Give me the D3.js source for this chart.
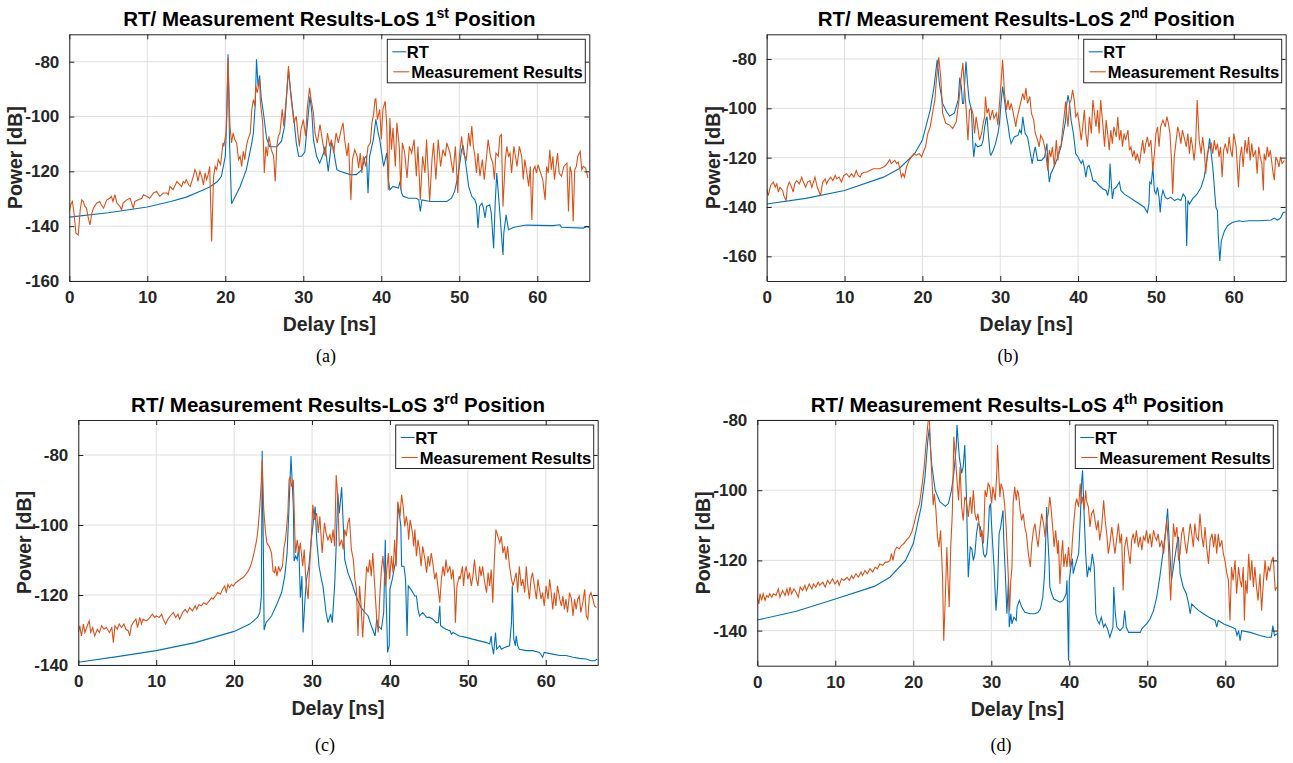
<!DOCTYPE html>
<html>
<head>
<meta charset="utf-8">
<script src="https://cdn.jsdelivr.net/npm/d3@7"></script>
<style>
body { margin: 0; background: #fff; }
text { font-family: "Liberation Sans", Arial, Helvetica, sans-serif; }
</style>
</head>
<body>
<div id="chart"></div>
<script>
// ---- data: [delay ns, power dB] ----
const xTicks = [0, 10, 20, 30, 40, 50, 60];

const rtA = [[0,-136.7],[5,-135.1],[10,-133],[13,-131],[15,-129.4],[17,-127],[18,-125.7],[19,-123.7],[19.5,-121.8],[20,-114.5],[20.2,-100],[20.35,-77.3],[20.55,-110],[20.8,-131.8],[21.3,-129],[21.9,-125.5],[22.7,-119.4],[23.4,-109.6],[23.6,-106],[23.85,-95],[24.0,-79.1],[24.2,-89],[24.4,-85],[24.6,-93],[24.9,-99],[25.3,-108],[25.7,-111],[26.6,-111],[27.2,-109],[27.6,-103.5],[27.9,-91],[28.1,-83.4],[28.5,-93.8],[28.8,-101],[29.1,-109.6],[29.4,-114.5],[29.8,-114.5],[30.2,-113],[30.5,-103.5],[30.85,-92.6],[31.1,-98.7],[31.3,-108.4],[31.7,-114.5],[32.1,-117],[32.6,-113.3],[32.8,-110.9],[33.2,-120],[33.6,-109.6],[33.8,-110.9],[34.3,-119.4],[34.7,-120],[36.0,-121.2],[36.8,-121.2],[37.5,-119.4],[37.9,-115],[38.1,-114.5],[38.3,-128],[38.5,-114.5],[38.98,-108.4],[39.3,-101],[39.6,-106],[39.8,-108.4],[40.3,-118.2],[40.7,-113.3],[40.9,-123],[41.1,-126.7],[41.5,-125.5],[42.2,-126.1],[42.4,-123.7],[42.6,-127.9],[42.8,-129.1],[43.5,-129.8],[44.5,-129.8],[44.8,-130.4],[45.0,-134.6],[45.2,-130.4],[46.3,-131],[48.4,-131],[49.0,-129.8],[49.4,-127.3],[49.9,-120.6],[50.3,-112.1],[50.5,-110.9],[50.7,-114.5],[51.2,-125.5],[51.6,-129.1],[52.0,-130.4],[52.2,-132.2],[52.4,-140.7],[52.6,-132.8],[52.9,-131.6],[53.1,-133.4],[53.3,-137],[53.5,-132.8],[53.9,-132.2],[54.1,-135.2],[54.4,-148],[54.6,-131.6],[54.8,-120.6],[55.0,-127.9],[55.2,-135.2],[55.6,-150.5],[55.7,-142.6],[56.0,-135.9],[56.3,-141.3],[57.0,-140.4],[58.6,-139.6],[62.0,-139.8],[62.9,-139.5],[63.1,-140.4],[65.9,-140.7],[66.3,-140.1],[66.67,-140.5]];

const msA = [[0,-134.6],[0.17,-132.2],[0.4,-131],[0.6,-135.2],[0.85,-142.6],[1.15,-143.2],[1.4,-134],[1.6,-130.4],[1.8,-131],[2.0,-132.8],[2.2,-133.4],[2.4,-136.5],[2.65,-139.5],[2.9,-135.2],[3.1,-133.4],[3.5,-131.6],[3.9,-131],[4.1,-132.2],[4.4,-133.4],[4.8,-130.4],[5.2,-129.8],[5.4,-129.1],[5.6,-131],[5.85,-128.5],[6.1,-131.6],[6.5,-132.8],[6.7,-134],[6.9,-131.6],[7.35,-130.4],[7.8,-129.8],[8.2,-133.4],[8.4,-131],[8.85,-130.4],[9.3,-129.8],[9.5,-128.5],[9.9,-129.1],[10.3,-129.8],[10.8,-127.9],[11.2,-127.3],[11.6,-129.1],[12.05,-127.9],[12.5,-127.9],[12.7,-128.5],[12.9,-125.5],[13.3,-126.7],[13.8,-123.7],[14.2,-124.9],[14.4,-125.5],[14.6,-123.7],[14.8,-124.3],[15.0,-123],[15.3,-124.9],[15.5,-125.5],[15.7,-123.7],[15.9,-121.8],[16.1,-119.4],[16.3,-120.6],[16.5,-123.7],[16.75,-120],[16.97,-121.8],[17.2,-124.9],[17.4,-120.6],[17.6,-123],[17.8,-121.2],[18.0,-118.2],[18.25,-145.6],[18.5,-121.8],[18.7,-118.2],[18.9,-119.4],[19.1,-115.7],[19.4,-117.6],[19.7,-109.6],[19.8,-110.9],[20.1,-106],[20.35,-78.5],[20.6,-103.5],[20.8,-109.6],[21.0,-106],[21.2,-108.4],[21.45,-109.6],[21.7,-115.7],[21.9,-114.5],[22.1,-118.2],[22.3,-112.7],[22.5,-115.7],[22.7,-110.9],[22.9,-108.4],[23.2,-106],[23.4,-97.4],[23.6,-93.8],[23.8,-96.2],[23.9,-88.9],[24.1,-91.3],[24.4,-86.5],[24.5,-95],[24.8,-102.3],[25.0,-120.6],[25.2,-110.9],[25.4,-114.5],[25.6,-107.2],[25.9,-112.1],[26.2,-114.5],[26.4,-123.7],[26.6,-110.9],[26.8,-107.2],[27.0,-106],[27.3,-97.4],[27.5,-103.5],[27.8,-93.8],[28.1,-81.6],[28.4,-92.6],[28.6,-97.4],[28.8,-102.3],[29.1,-99.9],[29.3,-106],[29.5,-110.9],[29.7,-104.8],[30.0,-101.1],[30.3,-107.2],[30.5,-97.4],[30.8,-89.5],[31.0,-93.8],[31.3,-98.7],[31.5,-106],[31.8,-109.6],[32.14,-102.9],[32.5,-109.6],[32.8,-114.5],[33.1,-106],[33.4,-110.9],[33.6,-108.4],[33.9,-113.3],[34.2,-106],[34.5,-109.6],[34.8,-105.4],[35.1,-102.3],[35.3,-108.4],[35.6,-114.5],[35.8,-109.6],[36.1,-130.4],[36.3,-115.7],[36.6,-112.1],[36.9,-114.5],[37.1,-118.8],[37.3,-113.3],[37.5,-120.6],[37.7,-114.5],[38.0,-118.2],[38.3,-110.9],[38.6,-109.6],[38.8,-102.3],[39.0,-99.3],[39.2,-93.8],[39.3,-93.5],[39.5,-101.1],[39.8,-97.4],[40.0,-108.4],[40.2,-97.4],[40.5,-94.4],[40.7,-103.5],[40.9,-126.7],[41.1,-100.5],[41.3,-112.1],[41.5,-104.1],[41.8,-118.2],[42.0,-102.3],[42.3,-110.9],[42.5,-126.7],[42.7,-109.6],[43.0,-113.3],[43.3,-122.4],[43.6,-110.9],[43.9,-113.3],[44.2,-108.4],[44.5,-121.8],[44.7,-110.9],[45.0,-130.4],[45.3,-114.5],[45.6,-120.6],[45.8,-108.4],[46.2,-131],[46.5,-115.7],[46.7,-109.6],[47.0,-123],[47.3,-108.4],[47.6,-118.2],[47.9,-112.1],[48.2,-114.5],[48.4,-109.6],[48.8,-113.3],[49.2,-120.6],[49.5,-110.9],[49.8,-127.9],[50.0,-114.5],[50.3,-107.2],[50.5,-113.3],[50.9,-115.7],[51.2,-106],[51.4,-110.9],[51.6,-103.5],[51.8,-110.9],[52.0,-114.5],[52.2,-120.6],[52.4,-113.3],[52.65,-121.8],[52.95,-115.7],[53.2,-123],[53.5,-114.5],[53.7,-108.4],[54.0,-114.5],[54.3,-117],[54.5,-123],[54.7,-113.3],[55.0,-114.5],[55.2,-107.2],[55.4,-106.6],[55.6,-132.8],[55.9,-115.7],[56.1,-110.9],[56.3,-114.5],[56.5,-113.3],[56.7,-120.6],[57.0,-110.9],[57.2,-114.5],[57.4,-118.2],[57.7,-110.9],[58.0,-114.5],[58.2,-123],[58.4,-115.7],[58.6,-119.4],[58.9,-125.5],[59.1,-118.2],[59.3,-137.7],[59.5,-119.4],[59.7,-118.2],[59.9,-120.6],[60.1,-117.6],[60.3,-119.4],[60.7,-123],[61.0,-130.4],[61.2,-118.2],[61.4,-120.6],[61.6,-112.1],[61.8,-119.4],[62.0,-114.5],[62.2,-123],[62.6,-113.3],[62.8,-120.6],[63.1,-121.8],[63.4,-118.2],[63.8,-117],[64.0,-134.6],[64.2,-118.2],[64.4,-120.6],[64.6,-138.3],[64.8,-119.4],[65.0,-118.2],[65.2,-114.5],[65.5,-112.7],[65.7,-119.4],[65.9,-118.2],[66.2,-118.8],[66.5,-122.4]];

const rtB = [[0,-138.8],[5,-136.5],[10,-133.3],[15,-127.9],[17,-124.5],[19,-118.4],[20,-112.9],[21,-100.7],[21.5,-91.2],[21.9,-80.3],[22.2,-90.5],[22.6,-98],[23.1,-101.4],[23.5,-103.1],[24.1,-102],[24.6,-96.6],[24.8,-87.5],[25.0,-91.2],[25.15,-98],[25.3,-98],[25.45,-88.4],[25.6,-81],[25.8,-90],[26.0,-96.6],[26.3,-100.7],[26.5,-115.6],[26.6,-119.7],[26.8,-114.3],[27.1,-115.6],[27.6,-115],[27.8,-112.9],[28.0,-107.5],[28.2,-104.1],[28.3,-103.4],[28.5,-111.6],[28.7,-118.4],[28.8,-119],[29.1,-117],[29.4,-114.3],[29.7,-110.2],[29.9,-106.1],[30.1,-98],[30.3,-91.2],[30.6,-98],[30.8,-103.4],[31.0,-106.8],[31.2,-111.6],[31.4,-114.3],[31.6,-112.9],[31.8,-111.6],[32.3,-110.9],[32.5,-108.8],[32.7,-110.2],[32.9,-103.4],[33.0,-106.1],[33.2,-110.2],[33.5,-111.6],[33.8,-117],[34.1,-122.4],[34.3,-118.4],[34.5,-115.6],[34.8,-121.1],[35.3,-121.1],[35.7,-119.7],[36.0,-114.3],[36.1,-122.4],[36.3,-129.9],[36.5,-126.5],[36.9,-123.8],[37.4,-119.7],[37.8,-115.6],[38.1,-110.2],[38.4,-104.8],[38.5,-99.3],[38.7,-94.6],[38.9,-98],[39.1,-104.8],[39.4,-110.2],[39.7,-118.4],[40.0,-119.7],[40.2,-121.1],[40.4,-122.4],[40.6,-121.1],[40.8,-123.8],[41.0,-127.9],[41.2,-123.8],[41.4,-123.1],[41.7,-126.5],[41.9,-129.3],[42.3,-129.9],[42.7,-131.3],[43.2,-132.7],[43.6,-133.3],[43.8,-135.4],[44.0,-132],[44.1,-122.4],[44.3,-132],[44.4,-136.7],[44.6,-132.7],[44.9,-132],[45.3,-129.9],[45.5,-133.3],[45.9,-134.7],[46.6,-136.1],[47.2,-137.4],[47.9,-138.8],[48.5,-140.1],[48.9,-142.2],[49.1,-138.8],[49.2,-129.9],[49.4,-130.6],[49.6,-123.8],[49.8,-133.3],[50.0,-134.7],[50.2,-132],[50.4,-136.1],[50.55,-142.2],[50.7,-136.1],[50.9,-133.3],[51.2,-136.1],[51.5,-136.7],[51.9,-136.1],[52.4,-137.4],[52.8,-136.7],[53.2,-137.4],[53.5,-134.7],[53.8,-136.1],[53.95,-155.8],[54.1,-137.4],[54.3,-138.8],[54.7,-136.7],[55.3,-134.7],[55.8,-132],[56.2,-127.9],[56.6,-119.7],[56.9,-112.2],[57.1,-118.4],[57.3,-123.8],[57.5,-132],[57.7,-140.1],[57.9,-141.5],[58.0,-151],[58.2,-161.9],[58.4,-153.7],[58.8,-149.7],[59.2,-147.6],[59.8,-146.3],[60.7,-145.6],[61.1,-145.9],[62.0,-145.6],[63.3,-145.6],[64.8,-145.3],[65.2,-144.5],[65.6,-145.3],[66.0,-144.5],[66.35,-142.2],[66.67,-142]];

const msB = [[0,-132.7],[0.2,-135.4],[0.5,-131.3],[0.85,-129.9],[1.1,-132],[1.3,-130.6],[1.5,-134],[1.7,-132],[2.05,-133.3],[2.2,-135.4],[2.5,-137.4],[2.65,-132],[2.9,-129.9],[3.2,-132],[3.4,-134],[3.6,-130.6],[3.85,-129.3],[4.2,-130.6],[4.5,-127.9],[4.7,-129.9],[5.0,-132],[5.25,-129.9],[5.55,-129.3],[5.8,-132],[6.0,-129.9],[6.2,-127.9],[6.5,-132],[6.75,-134],[6.9,-135.4],[7.2,-129.9],[7.5,-128.6],[7.7,-130.6],[7.9,-129.3],[8.2,-127.9],[8.5,-129.3],[8.8,-127.2],[9.0,-128.6],[9.3,-127.9],[9.6,-129.9],[9.9,-127.2],[10.25,-126.5],[10.6,-127.9],[10.9,-126.5],[11.2,-127.9],[11.5,-125.2],[11.75,-127.2],[12.0,-127.9],[12.2,-126.5],[12.5,-125.9],[12.8,-125.9],[13.25,-125.2],[13.7,-124.5],[14.1,-124.5],[14.5,-124.5],[15.0,-123.8],[15.3,-123.1],[15.6,-121.8],[15.8,-120.8],[16.0,-122.4],[16.2,-121.8],[16.45,-121.1],[16.7,-122.4],[16.9,-121.8],[17.1,-124.5],[17.3,-127.9],[17.5,-126.5],[17.7,-127.9],[17.95,-123.8],[18.3,-121.1],[18.6,-119.7],[18.9,-118.4],[19.2,-119],[19.6,-118.4],[19.9,-119.7],[20.2,-117],[20.4,-115.6],[20.7,-110.2],[21.0,-107.5],[21.3,-102],[21.6,-96.6],[21.8,-88.4],[22.1,-79.3],[22.35,-87.1],[22.6,-102],[23.0,-106.1],[23.5,-106.8],[23.9,-108.2],[24.35,-105.4],[24.7,-96.6],[25.0,-87.1],[25.2,-81.6],[25.4,-91.2],[25.6,-99.3],[25.85,-112.9],[26.05,-100.7],[26.3,-100],[26.5,-102.2],[26.7,-110.2],[26.9,-103.4],[27.1,-107.5],[27.35,-112.9],[27.6,-110.2],[27.8,-106.1],[28.0,-103.4],[28.1,-95.2],[28.3,-102],[28.5,-100],[28.7,-104.8],[29.0,-100.7],[29.2,-104.1],[29.5,-102],[29.7,-106.8],[29.9,-98],[30.1,-89.8],[30.3,-80.3],[30.55,-93.9],[30.8,-100.7],[31.0,-96.6],[31.2,-100.7],[31.4,-98],[31.6,-100.7],[32.0,-107.5],[32.1,-104.8],[32.4,-100.7],[32.7,-96.6],[32.9,-93.9],[33.1,-96.6],[33.3,-91.8],[33.5,-98],[33.8,-95.2],[34.0,-102],[34.3,-104.8],[34.5,-110.2],[34.8,-112.9],[35.0,-115.6],[35.2,-110.9],[35.5,-112.9],[35.7,-115.6],[35.9,-119.7],[36.1,-125.2],[36.3,-117],[36.5,-119.7],[36.7,-115.6],[36.95,-123.8],[37.2,-112.9],[37.4,-121.1],[37.6,-115.6],[37.8,-115.6],[38.0,-108.8],[38.2,-103.4],[38.4,-97.3],[38.7,-107.5],[38.9,-98],[39.1,-96.6],[39.3,-92.5],[39.5,-96.6],[39.7,-103.4],[39.95,-102],[40.2,-107.5],[40.4,-112.9],[40.6,-107.5],[40.8,-100.7],[41.0,-110.2],[41.2,-115.6],[41.45,-103.4],[41.7,-110.2],[41.9,-96.6],[42.1,-102],[42.3,-107.5],[42.5,-100.7],[42.7,-110.2],[42.9,-96.6],[43.2,-107.5],[43.4,-115.6],[43.6,-104.8],[43.8,-110.2],[44.0,-117],[44.2,-108.8],[44.4,-114.3],[44.6,-107.5],[44.9,-111.6],[45.1,-103.4],[45.3,-112.9],[45.5,-108.8],[45.7,-115.6],[45.9,-110.2],[46.1,-112.9],[46.4,-108.8],[46.6,-117],[46.8,-115.6],[47.0,-119.7],[47.2,-117],[47.4,-121.1],[47.6,-118.4],[47.9,-122.4],[48.1,-117],[48.3,-112.9],[48.5,-118.4],[48.7,-114.3],[48.9,-111.6],[49.1,-115.6],[49.35,-112.9],[49.6,-125.2],[49.8,-118.4],[50.0,-110.2],[50.2,-107.5],[50.4,-115.6],[50.6,-107.5],[50.9,-104.8],[51.2,-107.5],[51.4,-103.4],[51.6,-106.1],[51.8,-110.2],[52.0,-121.1],[52.15,-134.7],[52.35,-119.7],[52.6,-112.9],[52.8,-107.5],[53.0,-110.2],[53.2,-114.3],[53.4,-108.8],[53.7,-112.9],[53.9,-115.6],[54.1,-110.2],[54.3,-118.4],[54.5,-111.6],[54.7,-115.6],[54.9,-121.1],[55.1,-114.3],[55.3,-96.6],[55.55,-112.9],[55.8,-118.4],[56.0,-111.6],[56.2,-117],[56.4,-126.5],[56.6,-118.4],[56.9,-115.6],[57.1,-114.3],[57.3,-118.4],[57.5,-112.9],[57.7,-117],[57.9,-114.3],[58.1,-119.7],[58.3,-115.6],[58.5,-127.9],[58.7,-117],[58.9,-114.3],[59.2,-118.4],[59.4,-111.6],[59.6,-117],[59.8,-119.7],[60.0,-110.2],[60.3,-115.6],[60.6,-132],[60.8,-119.7],[61.0,-115.6],[61.2,-123.8],[61.45,-112.9],[61.7,-118.4],[61.9,-111.6],[62.1,-121.1],[62.3,-114.3],[62.5,-119.7],[62.8,-117],[63.0,-126.5],[63.2,-115.6],[63.4,-119.7],[63.6,-122.4],[63.8,-133.3],[63.9,-118.4],[64.1,-121.1],[64.3,-115.6],[64.5,-119.7],[64.7,-117],[65.0,-125.2],[65.2,-129.1],[65.4,-119.7],[65.6,-121.1],[65.8,-123.8],[66.0,-119.7],[66.2,-122.4],[66.5,-121.1]];

const rtC = [[0,-139.2],[5,-137.6],[10,-135.9],[15,-133.6],[20,-130.4],[22,-128.3],[23,-126.4],[23.3,-125],[23.5,-120.3],[23.6,-78.8],[23.75,-106],[23.85,-130],[24.1,-127.9],[24.8,-126],[25.4,-123.1],[26.1,-119.3],[26.5,-114.6],[26.8,-108],[27.05,-94.7],[27.3,-80.3],[27.6,-94.7],[27.7,-110.3],[27.9,-108.9],[28.1,-109.9],[28.3,-106.1],[28.5,-120.8],[28.7,-114.6],[28.85,-130.7],[29.1,-121.2],[29.3,-115.5],[29.6,-111.8],[29.9,-104.2],[30.2,-98.5],[30.4,-94.7],[30.6,-104.2],[30.9,-111.8],[31.2,-115.5],[31.4,-117.4],[31.8,-125],[32.05,-127.9],[32.4,-125.5],[32.6,-127.9],[32.9,-117.4],[33.1,-106.1],[33.3,-90.9],[33.5,-96.6],[33.8,-89.2],[34.0,-99.4],[34.2,-109.9],[34.6,-113.6],[35.1,-116.5],[35.5,-119.3],[35.9,-121.7],[36.3,-123.6],[36.8,-125],[37.2,-126],[37.6,-128.8],[38.1,-131.7],[38.3,-126.9],[38.5,-128.8],[38.9,-129.8],[39.2,-125],[39.4,-104.2],[39.5,-119.3],[39.7,-136.4],[39.9,-134.5],[40.0,-118.4],[40.3,-115.5],[40.6,-111.8],[40.8,-109.9],[41.05,-94.7],[41.2,-96.6],[41.4,-100.4],[41.5,-111.8],[41.8,-111.8],[41.9,-113.6],[42.0,-115.5],[42.2,-131.7],[42.35,-117.4],[42.7,-118.4],[43.2,-120.3],[43.4,-120.3],[43.6,-124.1],[43.8,-126],[44.2,-125],[44.7,-126.4],[45.1,-126.4],[45.5,-126.9],[45.95,-127.9],[46.2,-127.9],[46.4,-123.1],[46.5,-128.8],[46.8,-129.3],[47.2,-129.8],[47.7,-130.2],[47.9,-131.2],[48.1,-130.7],[48.9,-131.7],[49.8,-132.1],[50.6,-132.6],[51.5,-133.1],[52.4,-133.6],[52.8,-134],[53.0,-131.7],[53.1,-134.5],[53.3,-136.9],[53.55,-130.7],[53.7,-135.5],[54.1,-134.5],[54.3,-135.5],[54.7,-135],[55.35,-134.5],[55.6,-127.9],[55.7,-117.4],[55.9,-132.6],[56.1,-134.5],[56.2,-131.7],[56.4,-134.5],[56.6,-135.5],[57.5,-135.9],[58.3,-135.9],[59.2,-136.4],[59.6,-137.8],[59.8,-136.4],[60.9,-136.9],[61.8,-137.3],[62.6,-137.3],[63.5,-137.8],[64.3,-138.1],[65.2,-138.3],[65.8,-138.8],[66.3,-138.8],[66.6,-138.3]];

const msC = [[0,-130.7],[0.2,-128.8],[0.4,-131.7],[0.65,-128.3],[0.85,-130.7],[1.15,-128.8],[1.4,-127.4],[1.6,-130.7],[1.85,-129.3],[2.1,-131.7],[2.45,-129.8],[2.7,-130.7],[3.0,-128.8],[3.3,-129.8],[3.6,-129.3],[4.0,-130.7],[4.3,-129.3],[4.5,-133.6],[4.7,-128.8],[5.0,-129.8],[5.25,-128.3],[5.55,-129.3],[5.85,-128.3],[6.1,-129.8],[6.4,-130.2],[6.6,-131.7],[6.8,-128.8],[7.05,-127.9],[7.4,-126.9],[7.6,-129.3],[7.9,-126.4],[8.1,-128.3],[8.3,-126.9],[8.7,-127.4],[9.0,-126.9],[9.2,-126.4],[9.5,-125.5],[9.8,-126.4],[10.0,-126],[10.4,-126.4],[10.7,-125.5],[10.9,-126.9],[11.2,-128.3],[11.5,-126.9],[11.8,-126],[12.2,-125],[12.5,-126.4],[12.8,-125.5],[13.0,-126.9],[13.4,-125],[13.7,-124.1],[14.0,-125],[14.3,-123.6],[14.65,-124.6],[15.0,-123.1],[15.2,-124.1],[15.5,-122.7],[15.8,-123.1],[16.1,-122.2],[16.45,-122.7],[16.8,-121.7],[17.1,-120.8],[17.3,-121.2],[17.6,-120.3],[17.9,-119.3],[18.25,-119.8],[18.5,-118.4],[18.8,-117.4],[19.0,-119.3],[19.2,-117],[19.4,-117.9],[19.65,-117],[19.9,-117.4],[20.2,-116.5],[20.5,-116],[20.8,-115.5],[21.15,-115],[21.5,-114.1],[21.8,-113.2],[22.1,-111.8],[22.35,-109.9],[22.65,-107],[22.9,-104.2],[23.1,-100.4],[23.3,-94.7],[23.5,-87.1],[23.6,-81.4],[23.8,-95.6],[24.0,-101.3],[24.2,-105.1],[24.5,-106.1],[24.8,-108],[25.0,-113.2],[25.2,-113.6],[25.3,-111.8],[25.5,-114.6],[25.7,-111.8],[25.9,-113.2],[26.2,-111.8],[26.4,-106.5],[26.6,-104.2],[26.9,-96.6],[27.05,-87.1],[27.2,-86.2],[27.35,-89],[27.6,-87.1],[27.8,-103.2],[27.9,-108],[28.1,-104.2],[28.3,-108],[28.5,-105.1],[28.8,-111.8],[29.0,-107],[29.2,-115.5],[29.4,-119.3],[29.5,-121.2],[29.7,-111.8],[29.9,-104.2],[30.1,-94.2],[30.3,-98.5],[30.6,-96.6],[30.8,-102.3],[31.0,-97.5],[31.3,-108],[31.6,-99.4],[31.8,-102.3],[32.05,-104.2],[32.3,-102.8],[32.5,-105.1],[32.7,-101.3],[32.9,-106.1],[33.1,-85.7],[33.3,-91.8],[33.5,-106.1],[33.8,-104.2],[34.0,-107],[34.2,-101.3],[34.4,-103.2],[34.6,-99.4],[34.8,-98],[35.05,-107],[35.3,-109.9],[35.5,-115.5],[35.7,-118.4],[35.9,-131.7],[36.1,-117.4],[36.3,-123.1],[36.5,-132.1],[36.8,-120.3],[37.0,-111.8],[37.2,-113.6],[37.4,-109.9],[37.6,-114.6],[37.8,-108],[38.0,-115.5],[38.3,-126.9],[38.5,-130.7],[38.7,-120.3],[38.9,-112.7],[39.1,-108.9],[39.2,-111.8],[39.45,-117.4],[39.6,-112.7],[39.8,-108],[39.95,-115.5],[40.2,-108.9],[40.4,-113.6],[40.6,-104.2],[40.8,-111.8],[41.0,-93.3],[41.2,-95.6],[41.3,-97.5],[41.5,-91.4],[41.7,-94.7],[41.9,-100.4],[42.1,-97.5],[42.3,-100.4],[42.4,-104.2],[42.6,-98.5],[42.9,-102.3],[43.05,-106.1],[43.2,-101.3],[43.4,-108.9],[43.6,-104.2],[43.8,-107],[44.0,-111.8],[44.2,-106.1],[44.5,-109.9],[44.7,-113.6],[44.9,-108.9],[45.1,-111.8],[45.3,-108],[45.5,-110.8],[45.75,-115.5],[45.95,-113.6],[46.2,-118.4],[46.4,-122.2],[46.6,-115.5],[46.8,-111.8],[47.0,-114.6],[47.2,-109.9],[47.4,-113.6],[47.7,-111.8],[47.9,-115.5],[48.1,-112.7],[48.3,-119.3],[48.4,-127.9],[48.6,-117.4],[48.9,-114.6],[49.0,-115.5],[49.3,-111.8],[49.45,-117.4],[49.6,-113.6],[49.8,-111.8],[50.0,-115.5],[50.2,-113.6],[50.45,-117.4],[50.65,-114.6],[50.85,-109.9],[51.1,-115.5],[51.3,-117.4],[51.5,-111.8],[51.7,-114.6],[51.9,-111.8],[52.1,-115.5],[52.4,-119.3],[52.6,-113.6],[52.8,-117.4],[53.0,-112.7],[53.2,-122.2],[53.4,-109.9],[53.6,-101.3],[53.85,-103.2],[54.1,-105.1],[54.3,-103.2],[54.5,-108],[54.7,-106.1],[54.9,-109.9],[55.1,-106.1],[55.35,-111.8],[55.6,-115.5],[55.8,-117.4],[56.0,-115.5],[56.2,-113.6],[56.4,-119.3],[56.6,-111.8],[56.85,-117.4],[57.05,-115.5],[57.3,-119.3],[57.5,-111.8],[57.7,-117.4],[57.9,-121.2],[58.1,-115.5],[58.3,-113.6],[58.55,-117.4],[58.8,-121.2],[59.0,-115.5],[59.2,-118.4],[59.4,-121.2],[59.6,-119.3],[59.8,-123.1],[60.05,-117.4],[60.3,-121.2],[60.5,-115.5],[60.7,-119.3],[60.9,-124.1],[61.1,-119.3],[61.3,-123.1],[61.5,-117.4],[61.8,-121.2],[62.0,-123.1],[62.2,-120.3],[62.4,-124.1],[62.6,-121.2],[62.8,-125],[63.05,-119.3],[63.3,-121.2],[63.5,-126],[63.7,-121.2],[63.9,-124.1],[64.1,-121.2],[64.3,-120.3],[64.5,-125],[64.75,-122.2],[65.0,-118.4],[65.2,-126],[65.4,-126.9],[65.6,-120.3],[65.8,-119.3],[66.05,-121.2],[66.25,-123.1],[66.5,-123.6]];

const rtD = [[0,-137],[5,-134.5],[10,-131],[15,-127.4],[17,-124.8],[19,-120],[20,-115.2],[21,-104.8],[21.5,-96.2],[21.85,-86],[22.05,-82.4],[22.35,-92.4],[22.8,-100],[23.4,-103.3],[24.1,-104.6],[24.5,-103.8],[24.9,-100],[25.2,-95.2],[25.5,-87.6],[25.6,-81.4],[25.9,-90.5],[26.2,-95.2],[26.4,-93.3],[26.6,-87.1],[26.8,-101],[27.05,-124.8],[27.3,-116.2],[27.5,-116.7],[27.7,-120],[27.9,-118.1],[28.1,-112.4],[28.3,-109.5],[28.6,-110.5],[28.8,-113.3],[29.0,-118.1],[29.2,-119],[29.4,-118.1],[29.6,-112.4],[29.75,-104.8],[29.9,-103.8],[30.05,-110.5],[30.2,-116.2],[30.35,-121.9],[30.6,-134.3],[30.8,-127.6],[31.0,-112.4],[31.2,-110.5],[31.5,-105.7],[31.6,-114.3],[31.8,-123.8],[32.0,-135.2],[32.2,-125.7],[32.3,-139],[32.5,-135.2],[32.65,-138.1],[32.9,-136.2],[33.2,-137.1],[33.3,-133.3],[33.6,-131.4],[33.9,-133.3],[34.3,-134.8],[35.0,-135.2],[35.6,-135.2],[36.0,-134.8],[36.3,-133.8],[36.6,-130.5],[36.8,-124.8],[36.9,-120],[37.1,-104.8],[37.2,-111.4],[37.4,-120],[37.5,-127.6],[37.75,-129.5],[38.0,-131],[38.4,-131.4],[38.8,-131.9],[39.2,-131.4],[39.6,-129.5],[39.7,-125.7],[39.9,-148.6],[40.0,-125.7],[40.2,-121.9],[40.4,-119.5],[40.5,-123.8],[40.7,-121.9],[40.95,-120],[41.2,-118.1],[41.4,-108.6],[41.6,-97.1],[41.7,-94.3],[41.9,-106.7],[42.1,-118.1],[42.3,-124.8],[42.5,-121.9],[42.7,-122.9],[42.95,-118.1],[43.2,-121.9],[43.4,-135.2],[43.6,-137.1],[43.85,-138.1],[44.1,-136.2],[44.4,-139],[44.6,-138.1],[44.9,-139.5],[45.2,-141.9],[45.6,-139],[45.7,-127.6],[45.9,-135.2],[46.1,-139],[46.5,-140],[46.9,-139],[47.1,-134.3],[47.3,-139],[47.6,-140.5],[48.2,-140.5],[49.1,-140.5],[49.3,-139.5],[49.5,-139],[49.9,-138.1],[50.35,-136.7],[50.8,-134.3],[51.2,-130.5],[51.6,-124.8],[52.1,-116.2],[52.4,-110.5],[52.6,-105.2],[52.8,-114.3],[53.1,-125.7],[53.35,-121.9],[53.8,-115.2],[54.0,-113.3],[54.2,-123.8],[54.4,-125.7],[54.6,-127.6],[55.0,-129.5],[55.3,-132.4],[55.5,-135.2],[55.7,-132.4],[56.1,-133.3],[56.6,-134.3],[57.2,-135.2],[57.9,-136.2],[58.7,-137.1],[58.9,-139],[59.1,-137.1],[59.8,-138.1],[60.8,-139],[61.3,-139.5],[61.5,-141.4],[61.7,-140],[61.9,-142.9],[62.1,-140],[63.2,-140.5],[64.45,-141.4],[65.3,-141.9],[65.9,-141.9],[66.1,-138.6],[66.3,-141.4],[66.6,-140.9]];

const msD = [[0,-130.5],[0.2,-132.4],[0.35,-129.5],[0.55,-131.4],[0.75,-129.5],[1.0,-131.4],[1.2,-130],[1.4,-130.5],[1.6,-129.5],[1.85,-130.5],[2.05,-129.5],[2.4,-130],[2.7,-128.1],[2.9,-130.5],[3.25,-128.6],[3.55,-130],[3.8,-128.1],[4.0,-130],[4.2,-127.6],[4.4,-129.5],[4.7,-128.1],[4.95,-129],[5.25,-130.5],[5.5,-127.6],[5.8,-128.6],[6.1,-127.1],[6.3,-128.6],[6.65,-126.7],[7.0,-128.1],[7.2,-126.7],[7.5,-127.6],[7.8,-126.2],[8.0,-127.1],[8.4,-126.2],[8.7,-127.6],[9.0,-125.7],[9.3,-126.7],[9.65,-125.2],[9.95,-126.7],[10.3,-125.7],[10.5,-127.1],[10.8,-125.2],[11.1,-125.7],[11.5,-124.8],[11.8,-125.7],[12.1,-124.3],[12.3,-125.2],[12.65,-123.8],[12.95,-124.8],[13.3,-123.3],[13.5,-124.3],[13.8,-122.9],[14.1,-123.8],[14.45,-122.4],[14.8,-123.3],[15.1,-121.9],[15.4,-122.4],[15.7,-121],[16.1,-121.4],[16.4,-120.5],[16.7,-120.5],[17.0,-120],[17.2,-118.1],[17.4,-120],[17.65,-117.1],[17.9,-116.2],[18.2,-116.7],[18.5,-115.7],[18.8,-115.2],[19.1,-114.3],[19.5,-113.3],[19.8,-111.9],[20.1,-109.5],[20.4,-106.7],[20.8,-103.8],[21.1,-99],[21.4,-93.3],[21.6,-87.6],[21.9,-80.5],[22.05,-79],[22.2,-87.6],[22.4,-97.1],[22.55,-104.3],[22.7,-101],[22.9,-105.7],[23.1,-113.3],[23.3,-116.2],[23.5,-111.4],[23.75,-124.8],[23.9,-142.9],[24.1,-131],[24.3,-116.2],[24.4,-122.9],[24.6,-133.3],[24.8,-116.2],[25.0,-106.7],[25.2,-84.8],[25.4,-90.5],[25.6,-97.1],[25.8,-102.9],[26.0,-93.3],[26.2,-104.8],[26.4,-108.6],[26.6,-101.9],[26.8,-102.9],[27.05,-107.6],[27.3,-101.9],[27.5,-106.7],[27.7,-100],[27.9,-106.7],[28.1,-108.6],[28.3,-106.7],[28.6,-113.3],[28.8,-111.4],[29.0,-115.2],[29.2,-100],[29.4,-101.9],[29.6,-98.1],[29.8,-99],[30.05,-103.8],[30.2,-99],[30.35,-101],[30.5,-102.9],[30.7,-95.2],[30.8,-87.1],[31.0,-97.1],[31.1,-101.9],[31.25,-98.1],[31.5,-100],[31.7,-103.8],[31.9,-110.5],[32.05,-118.1],[32.2,-125.7],[32.35,-134.3],[32.5,-125.7],[32.65,-121.9],[32.8,-103.8],[33.0,-99],[33.2,-102.9],[33.35,-100],[33.5,-101],[33.7,-105.7],[33.9,-108.6],[34.1,-106.7],[34.3,-110.5],[34.5,-112.4],[34.75,-118.1],[35.0,-121.9],[35.2,-115.2],[35.4,-111.4],[35.6,-109.5],[35.8,-113.3],[36.0,-116.2],[36.25,-110.5],[36.45,-106.7],[36.7,-109.5],[36.9,-113.3],[37.1,-108.6],[37.3,-106.7],[37.5,-101.9],[37.65,-104.8],[37.9,-111.4],[38.05,-116.2],[38.25,-111.4],[38.5,-118.1],[38.6,-114.3],[38.8,-126.7],[39.0,-118.1],[39.15,-114.3],[39.3,-121.9],[39.5,-118.1],[39.7,-121.9],[39.9,-116.2],[40.1,-121.9],[40.3,-118.1],[40.4,-114.3],[40.6,-108.6],[40.8,-103.8],[40.95,-102.4],[41.2,-104.8],[41.4,-98.1],[41.55,-103.8],[41.7,-101.9],[41.9,-105.7],[42.1,-100],[42.2,-102.9],[42.45,-104.8],[42.65,-110.5],[42.85,-106.7],[43.1,-105.7],[43.3,-108.6],[43.5,-111.4],[43.7,-108.6],[43.9,-114.3],[44.15,-110.5],[44.4,-102.9],[44.6,-108.6],[44.8,-112.4],[45.0,-118.1],[45.2,-115.2],[45.45,-110.5],[45.65,-114.3],[45.85,-118.1],[46.1,-113.3],[46.3,-109.5],[46.5,-115.2],[46.7,-112.4],[46.9,-128.6],[47.1,-116.2],[47.35,-113.3],[47.55,-117.1],[47.8,-121],[48.0,-114.3],[48.2,-112.4],[48.4,-115.2],[48.6,-111.4],[48.85,-116.2],[49.1,-113.3],[49.3,-117.1],[49.5,-113.3],[49.7,-114.3],[49.9,-111.4],[50.1,-115.2],[50.35,-112.4],[50.55,-116.2],[50.8,-111.4],[51.0,-113.3],[51.2,-114.3],[51.4,-112.4],[51.6,-116.2],[51.85,-114.3],[52.1,-118.1],[52.3,-113.3],[52.5,-108.6],[52.7,-115.2],[52.8,-121.9],[53.0,-131.4],[53.2,-120],[53.35,-109.5],[53.55,-113.3],[53.8,-110.5],[54.0,-120],[54.2,-118.1],[54.4,-112.4],[54.6,-110.5],[54.85,-115.2],[55.05,-118.1],[55.3,-113.3],[55.5,-109.5],[55.7,-112.4],[55.9,-116.2],[56.1,-109.5],[56.3,-113.3],[56.55,-114.3],[56.75,-106.7],[57.0,-113.3],[57.2,-116.2],[57.4,-110.5],[57.6,-116.2],[57.85,-121],[58.05,-114.3],[58.3,-112.4],[58.5,-116.2],[58.7,-112.4],[58.9,-118.1],[59.1,-112.4],[59.3,-116.2],[59.55,-114.3],[59.75,-118.1],[59.95,-120],[60.2,-123.8],[60.4,-125.7],[60.6,-137.1],[60.8,-121.9],[61.0,-125.7],[61.25,-120],[61.45,-129.5],[61.7,-121.9],[61.9,-125.7],[62.1,-127.6],[62.3,-121.9],[62.45,-137.1],[62.6,-125.7],[62.8,-129.5],[63.0,-118.1],[63.2,-125.7],[63.4,-120],[63.6,-127.6],[63.8,-121.9],[64.0,-127.6],[64.2,-131.4],[64.45,-123.8],[64.65,-134.3],[64.9,-125.7],[65.1,-120],[65.3,-125.7],[65.5,-121.9],[65.7,-122.9],[65.95,-120],[66.15,-119],[66.4,-128.6],[66.6,-127.6]];

const ordinals = [["1", "st"], ["2", "nd"], ["3", "rd"], ["4", "th"]];
const captions = ["(a)", "(b)", "(c)", "(d)"];
const seriesNames = ["RT", "Measurement Results"];

// ---- layout (pixels) ----
const panels = [
  {id: "a", left: 69.3, top: 34.3, right: 589.3, bottom: 281, yDomain: [-160, -70], yTicks: [-160, -140, -120, -100, -80], rt: rtA, ms: msA, capX: 326},
  {id: "b", left: 766.7, top: 34.3, right: 1285.7, bottom: 281, yDomain: [-170, -70], yTicks: [-160, -140, -120, -100, -80], rt: rtB, ms: msB, capX: 1008},
  {id: "c", left: 78.3, top: 420, right: 597.7, bottom: 665, yDomain: [-140, -70], yTicks: [-140, -120, -100, -80], rt: rtC, ms: msC, capX: 325},
  {id: "d", left: 757.3, top: 420, right: 1277.3, bottom: 665.7, yDomain: [-150, -80], yTicks: [-140, -120, -100, -80], rt: rtD, ms: msD, capX: 1001}
];

const blue = "#0072BD", orange = "#D95319", ink = "#262626";

const svg = d3.select("#chart").append("svg")
    .attr("width", 1293)
    .attr("height", 763)
    .style("background", "#fff");

panels.forEach((p, i) => drawPanel(p, i));

function drawPanel(p, i) {
    let w = p.right - p.left;
    let h = p.bottom - p.top;
    let g = svg.append("g").attr("transform", "translate(" + p.left + "," + p.top + ")");

    let x = d3.scaleLinear().domain([0, 200 / 3]).range([0, w]);
    let y = d3.scaleLinear().domain(p.yDomain).range([h, 0]);

    // grid
    g.append("g").selectAll("line").data(xTicks).join("line")
        .attr("x1", d => x(d)).attr("x2", d => x(d))
        .attr("y1", 0).attr("y2", h)
        .attr("stroke", "#dfdfdf").attr("stroke-width", 1);
    g.append("g").selectAll("line").data(p.yTicks).join("line")
        .attr("x1", 0).attr("x2", w)
        .attr("y1", d => y(d)).attr("y2", d => y(d))
        .attr("stroke", "#dfdfdf").attr("stroke-width", 1);

    g.append("clipPath").attr("id", "clip-" + p.id)
        .append("rect").attr("width", w).attr("height", h);

    let line = d3.line().x(d => x(d[0])).y(d => y(d[1]));

    g.append("path").datum(p.rt)
        .attr("d", line)
        .attr("fill", "none").attr("stroke", blue).attr("stroke-width", 1.1)
        .attr("clip-path", "url(#clip-" + p.id + ")");
    g.append("path").datum(p.ms)
        .attr("d", line)
        .attr("fill", "none").attr("stroke", orange).attr("stroke-width", 1.1)
        .attr("clip-path", "url(#clip-" + p.id + ")");

    // axes, ticks point inward like MATLAB
    let fmt = d => String(d);
    g.append("g").attr("transform", "translate(0," + h + ")")
        .call(d3.axisBottom(x).tickValues(xTicks).tickFormat(fmt).tickSizeInner(-5).tickSizeOuter(0).tickPadding(10));
    g.append("g")
        .call(d3.axisLeft(y).tickValues(p.yTicks).tickFormat(fmt).tickSizeInner(-5).tickSizeOuter(0).tickPadding(10));
    g.append("g")
        .call(d3.axisTop(x).tickValues(xTicks).tickFormat("").tickSizeInner(-5).tickSizeOuter(0));
    g.append("g").attr("transform", "translate(" + w + ",0)")
        .call(d3.axisRight(y).tickValues(p.yTicks).tickFormat("").tickSizeInner(-5).tickSizeOuter(0));

    g.selectAll(".domain").attr("stroke", ink).attr("stroke-width", 1);
    g.selectAll(".tick line").attr("stroke", ink);
    g.selectAll(".tick text")
        .attr("fill", ink)
        .style("font-size", "17px")
        .style("font-weight", "bold")
        .style("font-family", '"Liberation Sans", Arial, sans-serif');

    // title
    let t = g.append("text")
        .attr("x", w / 2).attr("y", -8)
        .attr("text-anchor", "middle")
        .attr("fill", "#000")
        .style("font-size", "20.5px").style("font-weight", "bold");
    t.append("tspan").text("RT/ Measurement Results-LoS " + ordinals[i][0]);
    t.append("tspan").attr("dy", -8).style("font-size", "14px").text(ordinals[i][1]);
    t.append("tspan").attr("dy", 8).text(" Position");

    // axis labels
    g.append("text")
        .attr("x", w / 2).attr("y", h + 50)
        .attr("text-anchor", "middle").attr("fill", ink)
        .style("font-size", "19.5px").style("font-weight", "bold")
        .text("Delay [ns]");
    g.append("text")
        .attr("transform", "translate(-47," + (h / 2) + ") rotate(-90)")
        .attr("text-anchor", "middle").attr("fill", ink)
        .style("font-size", "19.5px").style("font-weight", "bold")
        .text("Power [dB]");

    // caption
    svg.append("text")
        .attr("x", p.capX).attr("y", p.top < 100 ? 362 : 751)
        .attr("text-anchor", "middle").attr("fill", "#000")
        .style("font-family", '"Liberation Serif", "Times New Roman", serif')
        .style("font-size", "18px")
        .text(captions[i]);

    // legend box
    let lg = g.append("g").attr("transform", "translate(" + (w - 202) + ",5)");
    lg.append("rect").attr("width", 198).attr("height", 43.5)
        .attr("fill", "#fff").attr("stroke", ink).attr("stroke-width", 1);
    let items = [{name: seriesNames[0], color: blue, y: 12.5, x0: 5, x1: 19, tx: 19.5},
                 {name: seriesNames[1], color: orange, y: 32.5, x0: 6, x1: 22, tx: 24}];
    items.forEach(it => {
        lg.append("line").attr("x1", it.x0).attr("x2", it.x1)
            .attr("y1", it.y).attr("y2", it.y)
            .attr("stroke", it.color).attr("stroke-width", 1.1);
        lg.append("text").attr("x", it.tx).attr("y", it.y + 6)
            .attr("fill", "#000")
            .style("font-size", "16.6px").style("font-weight", "bold")
            .text(it.name);
    });
}
</script>
</body>
</html>
